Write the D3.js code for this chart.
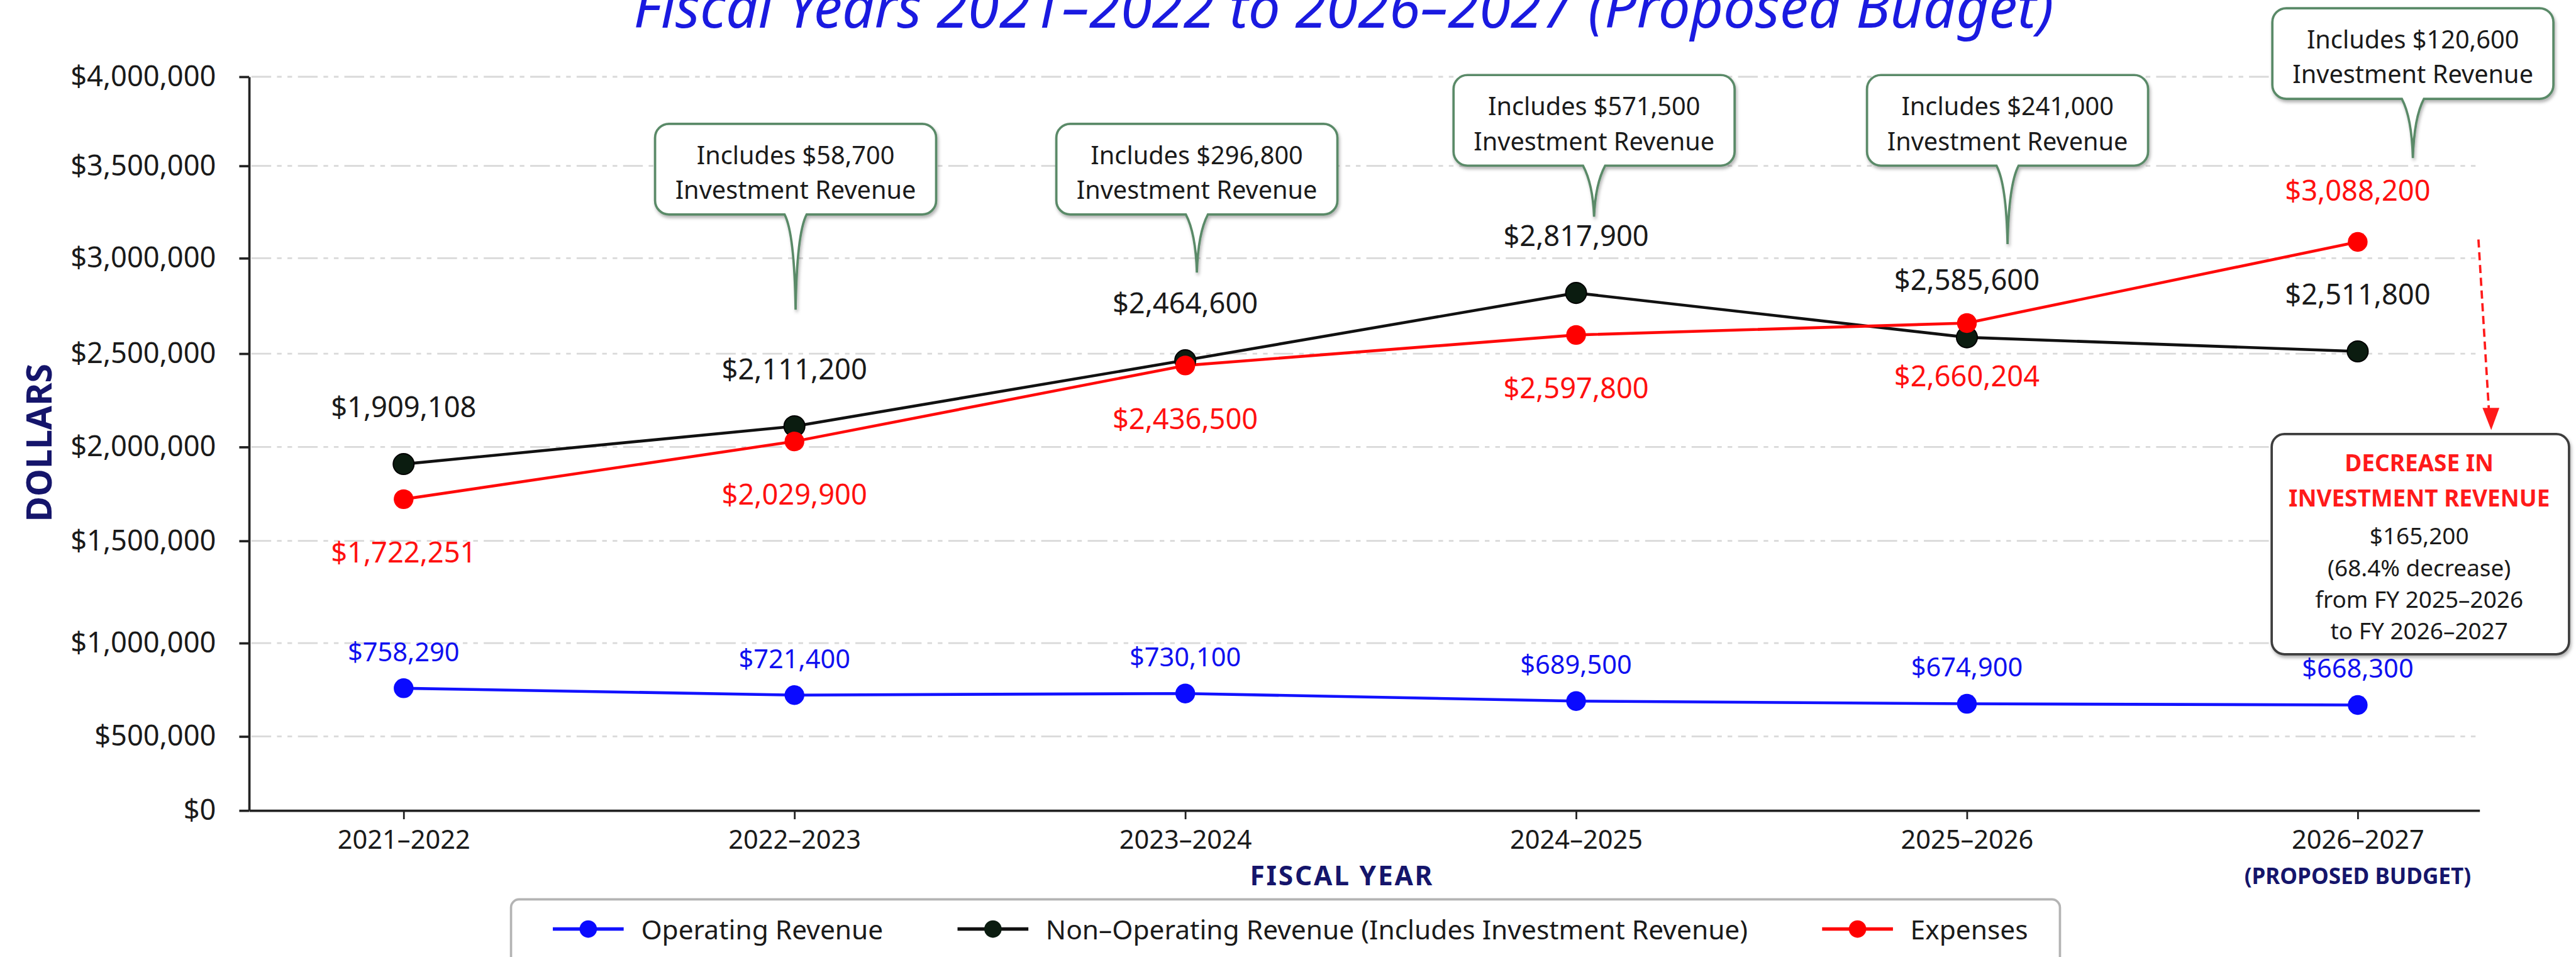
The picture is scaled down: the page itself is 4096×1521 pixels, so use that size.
<!DOCTYPE html>
<html>
<head>
<meta charset="utf-8">
<script src="https://cdn.jsdelivr.net/npm/d3@7"></script>
<style>
html,body{margin:0;padding:0;background:#ffffff;overflow:hidden}
text{font-family:"Noto Sans","Open Sans",sans-serif}
</style>
</head>
<body>
<svg id="chart" width="4096" height="1521" viewBox="0 0 4436 1647"></svg>
<script>
// ---------- data ----------
const categories = ["2021–2022","2022–2023","2023–2024","2024–2025","2025–2026","2026–2027"];
const operatingRevenue    = [758290, 721400, 730100, 689500, 674900, 668300];
const nonOperatingRevenue = [1909108, 2111200, 2464600, 2817900, 2585600, 2511800];
const expenses            = [1722251, 2029900, 2436500, 2597800, 2660204, 3088200];
const investmentRevenue   = [null, 58700, 296800, 571500, 241000, 120600];
const yTickValues = [0, 500000, 1000000, 1500000, 2000000, 2500000, 3000000, 3500000, 4000000];
const seriesNames = ["Operating Revenue", "Non–Operating Revenue (Includes Investment Revenue)", "Expenses"];
const titleText = "Fiscal Years 2021–2022 to 2026–2027 (Proposed Budget)";
const xAxisTitle = "FISCAL YEAR";
const yAxisTitle = "DOLLARS";
const proposedNote = "(PROPOSED BUDGET)";
const decreaseHeading = ["DECREASE IN", "INVESTMENT REVENUE"];
const decreaseAmount = 165200;
const decreasePct = "68.4%";
const decreaseFrom = "2025–2026";
const decreaseTo = "2026–2027";

// ---------- layout ----------
const svg = d3.select("#chart");
const plot = {left: 429, right: 4270, top: 132, bottom: 1395};
const FONT = '"Noto Sans","Open Sans",sans-serif';
const money = d => "$" + d3.format(",")(d);

const x = d3.scalePoint().domain(categories).range([plot.left, plot.right]).padding(0.3536).align(0.559);
// the reference's gridlines are not evenly spaced; a piecewise-linear scale follows them
const yGridPixels = [1395, 1267.5, 1106.8, 930.9, 769.3, 608.6, 444.3, 285.4, plot.top];
const y = d3.scaleLinear().domain(yTickValues).range(yGridPixels);

const defs = svg.append("defs");
const sh = defs.append("filter").attr("id","shadow").attr("x","-10%").attr("y","-10%").attr("width","130%").attr("height","140%");
sh.append("feDropShadow").attr("dx",2).attr("dy",4).attr("stdDeviation",3).attr("flood-color","#000").attr("flood-opacity",0.3);

// title (partially cut at top, as in the reference)
svg.append("text").attr("x", 2314).attr("y", 47).attr("text-anchor","middle")
  .attr("font-size", 98).attr("font-style","italic").attr("fill","#1a1ae0").text(titleText);

// gridlines
svg.append("g").selectAll("line").data(yTickValues.filter(d => d > 0)).join("line")
  .attr("x1", plot.left + 4).attr("x2", plot.right)
  .attr("y1", d => y(d)).attr("y2", d => y(d))
  .attr("stroke", "#d9d9d9").attr("stroke-width", 3)
  .attr("stroke-dasharray", "34,10,8,10,8,10");

// y axis
const gy = svg.append("g").attr("transform", `translate(${plot.left},0)`)
  .call(d3.axisLeft(y).tickValues(yTickValues).tickFormat(money).tickSize(17).tickSizeOuter(0).tickPadding(40));
gy.select(".domain").attr("stroke","#222").attr("stroke-width",4);
gy.selectAll(".tick line").attr("stroke","#222").attr("stroke-width",4);
gy.selectAll(".tick text").attr("font-size",49).attr("fill","#1a1a1a").attr("font-family",FONT);

// x axis
const gx = svg.append("g").attr("transform", `translate(0,${plot.bottom})`)
  .call(d3.axisBottom(x).tickSize(15).tickSizeOuter(0).tickPadding(19));
gx.select(".domain").attr("stroke","#222").attr("stroke-width",4);
gx.selectAll(".tick line").attr("stroke","#222").attr("stroke-width",3);
gx.selectAll(".tick text").attr("font-size",45).attr("fill","#1a1a1a").attr("font-family",FONT);

// axis titles
svg.append("text").attr("x", 2311).attr("y", 1506).attr("text-anchor","middle").attr("dominant-baseline","central")
  .attr("font-size",46).attr("font-weight","bold").attr("letter-spacing",3).attr("fill","#15156b").text(xAxisTitle);
svg.append("text").attr("x", x(categories[5])).attr("y", 1506).attr("text-anchor","middle").attr("dominant-baseline","central")
  .attr("font-size",38).attr("font-weight","bold").attr("fill","#15156b").text(proposedNote);
svg.append("text").attr("transform","translate(65,762) rotate(-90)").attr("text-anchor","middle").attr("dominant-baseline","central")
  .attr("font-size",60).attr("font-weight","bold").attr("fill","#15156b").text(yAxisTitle);

// series
const series = [
  {name: seriesNames[0], values: operatingRevenue,    line: "#1212ff", fill: "#0a0aff", stroke: "none", r: 17, label: "#1010f0", lsize: 45},
  {name: seriesNames[1], values: nonOperatingRevenue, line: "#111111", fill: "#0b1c10", stroke: "#000", r: 18, label: "#1a1a1a", lsize: 49},
  {name: seriesNames[2], values: expenses,            line: "#ff0a0a", fill: "#ff0000", stroke: "none", r: 17, label: "#ff1010", lsize: 49}
];
const lineGen = d3.line().x((d,i) => x(categories[i])).y(d => y(d));
const order = [0, 1, 2];
order.forEach(k => {
  const s = series[k];
  svg.append("path").datum(s.values).attr("d", lineGen)
    .attr("fill","none").attr("stroke", s.line).attr("stroke-width", 5).attr("stroke-linejoin","round");
});
order.forEach(k => {
  const s = series[k];
  svg.append("g").selectAll("circle").data(s.values).join("circle")
    .attr("cx", (d,i) => x(categories[i])).attr("cy", d => y(d)).attr("r", s.r)
    .attr("fill", s.fill).attr("stroke", s.stroke).attr("stroke-width", 2);
});

// data labels
const labelOffset = [-64, -100, 90];
const expenseLabelSide = [1, 1, 1, 1, 1, -1];
series.forEach((s, k) => {
  svg.append("g").selectAll("text").data(s.values).join("text")
    .attr("x", (d,i) => x(categories[i]))
    .attr("y", (d,i) => y(d) + (k === 2 ? labelOffset[k] * expenseLabelSide[i] : labelOffset[k]))
    .attr("text-anchor","middle").attr("dominant-baseline","central")
    .attr("font-size", s.lsize).attr("fill", s.label).text(d => money(d));
});

// investment revenue callouts
const calloutLayout = [null,
  {dx: 2,  top: 213, tipY: 533},
  {dx: 20, top: 213, tipY: 469},
  {dx: 31, top: 129, tipY: 373},
  {dx: 70, top: 129, tipY: 420},
  {dx: 95, top: 14,  tipY: 272}];
const cw = 484, ch = 156, cr = 24, tb = 19;
function calloutPath(cx, top, tipY) {
  const l = cx - cw/2, r = cx + cw/2, b = top + ch;
  return `M${l+cr},${top} H${r-cr} A${cr},${cr} 0 0 1 ${r},${top+cr} V${b-cr} A${cr},${cr} 0 0 1 ${r-cr},${b}` +
    ` H${cx+tb} Q${cx+2},${b+32} ${cx},${tipY} Q${cx-2},${b+32} ${cx-tb},${b}` +
    ` H${l+cr} A${cr},${cr} 0 0 1 ${l},${b-cr} V${top+cr} A${cr},${cr} 0 0 1 ${l+cr},${top} Z`;
}
investmentRevenue.forEach((v, i) => {
  if (v == null) return;
  const L = calloutLayout[i];
  const cx = x(categories[i]) + L.dx;
  const g = svg.append("g");
  g.append("path").attr("d", calloutPath(cx, L.top, L.tipY))
    .attr("fill","#ffffff").attr("stroke","#5a8a68").attr("stroke-width",4).attr("filter","url(#shadow)");
  g.append("text").attr("x", cx).attr("y", L.top + 53).attr("text-anchor","middle").attr("dominant-baseline","central")
    .attr("font-size",43).attr("fill","#1a1a1a").text("Includes " + money(v));
  g.append("text").attr("x", cx).attr("y", L.top + 113).attr("text-anchor","middle").attr("dominant-baseline","central")
    .attr("font-size",43).attr("fill","#1a1a1a").text("Investment Revenue");
});

// decrease arrow
svg.append("line").attr("x1",4268).attr("y1",412).attr("x2",4286).attr("y2",706)
  .attr("stroke","#ff1a1a").attr("stroke-width",4).attr("stroke-dasharray","14,8");
svg.append("polygon").attr("points","4290,740 4275,702 4304,702").attr("fill","#ff1a1a");

// decrease box
const db = {x: 3912, y: 747, w: 512, h: 379};
svg.append("rect").attr("x",db.x).attr("y",db.y).attr("width",db.w).attr("height",db.h).attr("rx",22)
  .attr("fill","#ffffff").attr("stroke","#3c3c3c").attr("stroke-width",4).attr("filter","url(#shadow)");
const dcx = db.x + db.w/2 - 2;
const decLines = [
  {t: decreaseHeading[0], dy: 49, c: "#ff1a1a", b: true},
  {t: decreaseHeading[1], dy: 109, c: "#ff1a1a", b: true},
  {t: money(decreaseAmount), dy: 175, c: "#1a1a1a", b: false},
  {t: "(" + decreasePct + " decrease)", dy: 230, c: "#1a1a1a", b: false},
  {t: "from FY " + decreaseFrom, dy: 284, c: "#1a1a1a", b: false},
  {t: "to FY " + decreaseTo, dy: 338, c: "#1a1a1a", b: false}
];
svg.append("g").selectAll("text").data(decLines).join("text")
  .attr("x", dcx).attr("y", d => db.y + d.dy).attr("text-anchor","middle").attr("dominant-baseline","central")
  .attr("font-size", 40).attr("font-weight", d => d.b ? "bold" : "normal").attr("fill", d => d.c).text(d => d.t);

// legend
const lg = svg.append("g");
const legendRect = lg.append("rect");
const legendY = 1599;
let lx = 952, lastEnd = lx;
series.forEach(s => {
  lg.append("line").attr("x1", lx).attr("x2", lx + 122).attr("y1", legendY).attr("y2", legendY)
    .attr("stroke", s.line).attr("stroke-width", 6);
  lg.append("circle").attr("cx", lx + 61).attr("cy", legendY).attr("r", 15).attr("fill", s.fill);
  const t = lg.append("text").attr("x", lx + 152).attr("y", legendY).attr("dominant-baseline","central")
    .attr("font-size", 46).attr("fill", "#1a1a1a").text(s.name);
  const w = t.node().getComputedTextLength();
  lastEnd = lx + 152 + w;
  lx = lastEnd + 128;
});
legendRect.attr("x", 880).attr("y", 1548).attr("width", lastEnd + 55 - 880).attr("height", 160).attr("rx", 14)
  .attr("fill","#ffffff").attr("stroke","#b4b4b4").attr("stroke-width",4);
</script>
</body>
</html>
